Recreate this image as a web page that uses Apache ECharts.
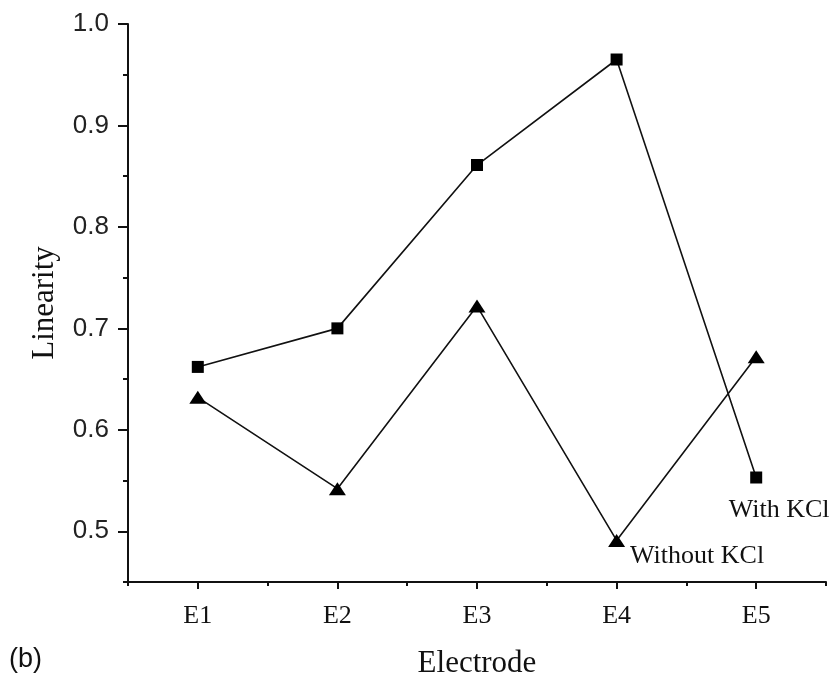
<!DOCTYPE html>
<html>
<head>
<meta charset="utf-8">
<script src="https://cdn.jsdelivr.net/npm/echarts@6/dist/echarts.min.js"></script>
<style>html,body{margin:0;padding:0;background:#fff;}#c{width:835px;height:684px;}</style>
</head>
<body>
<div id="c"></div>
<script>
const categories = ['E1', 'E2', 'E3', 'E4', 'E5'];
const withKCl = [0.662, 0.700, 0.861, 0.965, 0.553];
const withoutKCl = [0.632, 0.542, 0.722, 0.491, 0.672];
const yMajorTicks = [0.5, 0.6, 0.7, 0.8, 0.9, 1.0];
const yMinorTicks = [0.45, 0.55, 0.65, 0.75, 0.85, 0.95];
const yLabelText = ['0.5', '0.6', '0.7', '0.8', '0.9', '1.0'];

const serif = "'Liberation Serif', 'DejaVu Serif', serif";
const sans = "'Liberation Sans', Arial, sans-serif";

const chart = echarts.init(document.getElementById('c'));

function lastLabel(arr, idx, text, pos, offset) {
  return arr.map((v, i) => i === idx ? {
    value: v,
    label: { show: true, formatter: text, position: pos, offset: offset,
      fontFamily: serif, fontSize: 26, color: '#111' }
  } : v);
}

chart.setOption({
  animation: false,
  backgroundColor: '#fff',
  grid: { left: 128, right: 9, top: 24, bottom: 101, containLabel: false },
  xAxis: [{
    type: 'category', data: categories, boundaryGap: true,
    name: 'Electrode', nameLocation: 'middle', nameGap: 66,
    nameTextStyle: { fontFamily: serif, fontSize: 31, color: '#111' },
    axisLine: { show: true, lineStyle: { color: '#111', width: 2 } },
    axisTick: { show: true, alignWithLabel: true, length: 7, lineStyle: { color: '#111', width: 2 } },
    axisLabel: { fontFamily: serif, fontSize: 26, color: '#111', margin: 21 },
    splitLine: { show: false }
  }, {
    type: 'category', data: categories, boundaryGap: true, position: 'bottom',
    axisLine: { show: false },
    axisTick: { show: true, length: 4, lineStyle: { color: '#111', width: 2 } },
    axisLabel: { show: false },
    splitLine: { show: false }
  }],
  yAxis: [{
    type: 'value', min: 0.45, max: 1.0,
    name: 'Linearity', nameLocation: 'middle', nameGap: 68,
    nameTextStyle: { fontFamily: serif, fontSize: 31, color: '#111' },
    axisLine: { show: true, lineStyle: { color: '#111', width: 2 } },
    axisTick: { show: true, length: 10, customValues: yMajorTicks, lineStyle: { color: '#111', width: 2 } },
    axisLabel: { customValues: yMajorTicks, fontFamily: sans, fontSize: 26, color: '#222', margin: 19,
      formatter: v => { const i = yMajorTicks.findIndex(t => Math.abs(t - v) < 1e-6); return i >= 0 ? yLabelText[i] : ''; } },
    splitLine: { show: false }
  }, {
    type: 'value', min: 0.45, max: 1.0, position: 'left',
    axisLine: { show: false },
    axisTick: { show: true, length: 5, customValues: yMinorTicks, lineStyle: { color: '#111', width: 2 } },
    axisLabel: { show: false },
    splitLine: { show: false }
  }],
  series: [{
    name: 'With KCl', type: 'line',
    data: lastLabel(withKCl, 4, 'With KCl', 'bottom', [23, 9]),
    symbol: 'rect', symbolSize: 12, showAllSymbol: true,
    itemStyle: { color: '#000' },
    lineStyle: { color: '#111', width: 1.6 },
    z: 3
  }, {
    name: 'Without KCl', type: 'line',
    data: lastLabel(withoutKCl, 3, 'Without KCl', 'right', [0, 16]),
    symbol: 'triangle', symbolSize: [17, 13], showAllSymbol: true,
    itemStyle: { color: '#000' },
    lineStyle: { color: '#111', width: 1.6 },
    z: 3
  }],
  graphic: [{
    type: 'text', left: 9, top: 646,
    style: { text: '(b)', font: "27px 'Liberation Sans', Arial, sans-serif", fill: '#111' }
  }]
});
</script>
</body>
</html>
